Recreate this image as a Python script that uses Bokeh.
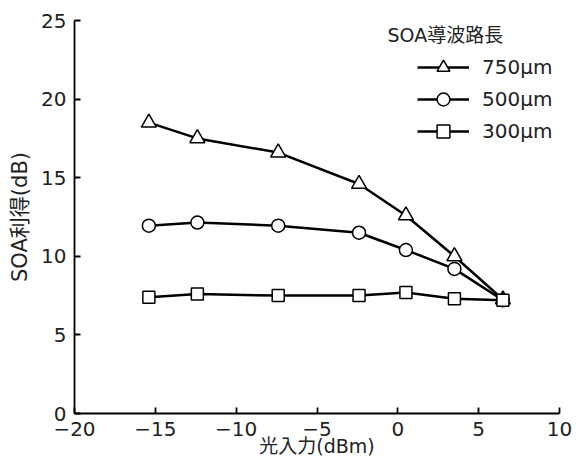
from bokeh.plotting import figure
from bokeh.models import Range1d, FixedTicker, Legend, LegendItem, Label
from bokeh.embed import file_html
from bokeh.resources import INLINE

FONT = "DejaVu Sans, Noto Sans CJK JP"

x_vals = [-15.4, -12.4, -7.4, -2.4, 0.5, 3.5, 6.5]
gain_750 = [18.5, 17.5, 16.6, 14.6, 12.6, 10.0, 7.25]
gain_500 = [11.95, 12.15, 11.95, 11.5, 10.4, 9.2, 7.2]
gain_300 = [7.4, 7.6, 7.5, 7.5, 7.7, 7.3, 7.2]
series_labels = ["750μm", "500μm", "300μm"]
legend_title = "SOA導波路長"
x_ticks = [-20, -15, -10, -5, 0, 5, 10]
y_ticks = [0, 5, 10, 15, 20, 25]
x_label = "光入力(dBm)"
y_label = "SOA利得(dB)"

p = figure(width=576, height=459, output_backend="svg", toolbar_location=None,
           x_range=Range1d(-20, 10), y_range=Range1d(0, 25),
           min_border_left=74, min_border_right=17, min_border_top=20, min_border_bottom=46)
p.outline_line_color = None
p.grid.visible = False
p.background_fill_color = "white"

for ax in (p.xaxis[0], p.yaxis[0]):
    ax.major_tick_in = 6
    ax.major_tick_out = 0
    ax.minor_tick_in = 0
    ax.minor_tick_out = 0
    ax.axis_line_width = 1.8
    ax.major_tick_line_width = 1.8
    ax.axis_line_color = "black"
    ax.major_tick_line_color = "black"
    ax.major_label_text_font = FONT
    ax.major_label_text_font_size = "20px"
    ax.major_label_text_color = "#222222"
    ax.axis_label_text_font = FONT
    ax.axis_label_text_font_style = "normal"
    ax.axis_label_text_color = "#222222"

p.xaxis[0].ticker = FixedTicker(ticks=x_ticks)
p.yaxis[0].ticker = FixedTicker(ticks=y_ticks)
p.xaxis[0].major_label_overrides = {t: (str(t).replace("-", "\u2212")) for t in x_ticks}
p.xaxis[0].major_label_standoff = 8
p.xaxis[0].axis_label_standoff = -4
p.xaxis[0].axis_label = x_label
p.xaxis[0].axis_label_text_font_size = "19px"
p.yaxis[0].major_label_standoff = 8
p.yaxis[0].axis_label_standoff = 6
p.yaxis[0].axis_label = y_label
p.yaxis[0].axis_label_text_font_size = "21px"

items = []
for ys, marker, size, lab in [(gain_750, "triangle", 15, series_labels[0]),
                              (gain_500, "circle", 13, series_labels[1]),
                              (gain_300, "square", 12, series_labels[2])]:
    l = p.line(x_vals, ys, line_color="black", line_width=2.5)
    s = p.scatter(x_vals, ys, marker=marker, size=size, fill_color="white",
                  line_color="black", line_width=1.5)
    items.append(LegendItem(label=lab, renderers=[l, s]))

legend = Legend(items=items, location=(343, 266), padding=0, margin=0,
                border_line_color=None, background_fill_alpha=0,
                glyph_width=52, glyph_height=32, label_height=20, spacing=0,
                label_standoff=13, label_text_font=FONT, label_text_font_size="20px",
                label_text_color="#222222")
p.add_layout(legend, "center")

title = Label(x=-0.64, y=24.05, text=legend_title, text_font=FONT, text_font_size="19px",
              text_baseline="middle", text_align="left", text_color="#222222")
p.add_layout(title)

open("out.html", "w").write(file_html(p, INLINE))
